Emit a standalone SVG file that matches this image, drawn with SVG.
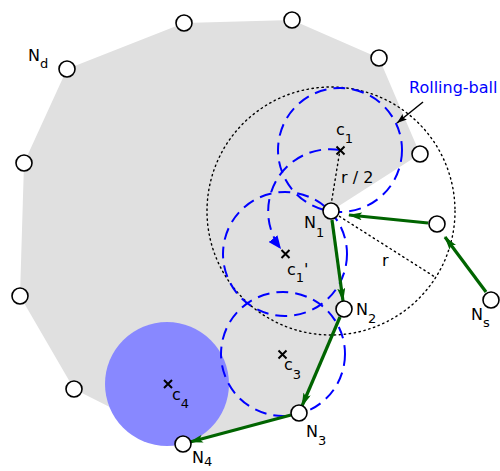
<svg xmlns="http://www.w3.org/2000/svg" width="500" height="471" viewBox="0 0 500 471">
<style>
.node{fill:#fff;stroke:#000;stroke-width:1.6}
.dot{fill:none;stroke:#000;stroke-width:1.4;stroke-dasharray:1.4,3.6;stroke-linecap:round}
.dash{fill:none;stroke:#0000ff;stroke-width:2;stroke-dasharray:12,7}
.grn{fill:none;stroke:#006400;stroke-width:3.2;marker-end:url(#ag)}
.x{stroke:#000;stroke-width:2}
text{font-family:"DejaVu Sans",sans-serif;font-size:16px;fill:#000}
.sub{font-size:13px}
</style>
<defs>
<marker id="ag" viewBox="0 0 14 8" refX="13" refY="4" markerWidth="14" markerHeight="8" markerUnits="userSpaceOnUse" orient="auto">
<path d="M0,0 L14,4 L0,8 L3,4 z" fill="#006400"/>
</marker>
<marker id="ab" viewBox="0 0 10 7" refX="10" refY="3.5" markerWidth="10" markerHeight="7" markerUnits="userSpaceOnUse" orient="auto">
<path d="M0,0 L10,3.5 L0,7 L2,3.5 z" fill="#000"/>
</marker>
<marker id="abl" viewBox="0 0 13 11" refX="13" refY="5.5" markerWidth="13" markerHeight="11" markerUnits="userSpaceOnUse" orient="auto">
<path d="M0,0 L13,5.5 L0,11 z" fill="#0000ff"/>
</marker>
</defs>
<polygon points="67,69 184,23 292,20 379,58 420,154 331,211 344,309 299,413 183,444 74,389 20,296 24,163" fill="#e0e0e0"/>
<circle cx="167" cy="384" r="62" fill="#8888ff"/>
<g id="guides">
<circle class="dot" cx="331" cy="211" r="124"/>
<line class="dot" x1="331" y1="205" x2="340" y2="150"/>
<line class="dot" x1="331" y1="211" x2="435" y2="277"/>
</g>
<g id="balls">
<circle class="dash" cx="340" cy="150" r="62"/>
<circle class="dash" cx="285" cy="254" r="62"/>
<circle class="dash" cx="283" cy="354" r="62"/>
<path class="dash" d="M340,150 A62,62 0 0 0 281,249" marker-end="url(#abl)"/>
</g>
<g id="connectors">
<line class="grn" x1="428" y1="223" x2="349" y2="215"/>
<line class="grn" x1="486" y1="292" x2="445" y2="237"/>
<line class="grn" x1="332" y1="220" x2="343" y2="301"/>
<line class="grn" x1="340" y1="317" x2="302" y2="406"/>
<line class="grn" x1="291" y1="415" x2="190" y2="442"/>
<line x1="423" y1="102" x2="397" y2="123" stroke="#000" stroke-width="1.5" marker-end="url(#ab)"/>
</g>
<g id="n-top1"><circle class="node" cx="184" cy="23" r="8"/></g>
<g id="n-top2"><circle class="node" cx="292" cy="20" r="8"/></g>
<g id="n-top3"><circle class="node" cx="379" cy="58" r="8"/></g>
<g id="n-right"><circle class="node" cx="420" cy="154" r="8"/></g>
<g id="N1"><circle class="node" cx="331" cy="211" r="8"/></g>
<g id="n-mid"><circle class="node" cx="437" cy="224" r="8"/></g>
<g id="Ns"><circle class="node" cx="491" cy="300" r="8"/></g>
<g id="N2"><circle class="node" cx="344" cy="309" r="8"/></g>
<g id="N3"><circle class="node" cx="299" cy="413" r="8"/></g>
<g id="N4"><circle class="node" cx="183" cy="444" r="8"/></g>
<g id="n-l1"><circle class="node" cx="74" cy="389" r="8"/></g>
<g id="n-l2"><circle class="node" cx="20" cy="296" r="8"/></g>
<g id="n-l3"><circle class="node" cx="24" cy="163" r="8"/></g>
<g id="Nd"><circle class="node" cx="67" cy="69" r="8"/></g>
<g id="centres">
<path class="x" d="M336.5,146.5 l8,8 m0,-8 l-8,8"/>
<path class="x" d="M281.5,250 l8,8 m0,-8 l-8,8"/>
<path class="x" d="M278.5,350.5 l8,8 m0,-8 l-8,8"/>
<path class="x" d="M164,380 l8,8 m0,-8 l-8,8"/>
</g>
<g id="labels">
<text x="409" y="93" fill="#0000ff" style="fill:#0000ff">Rolling-ball</text>
<text x="28" y="61">N<tspan class="sub" dy="7">d</tspan></text>
<text x="336" y="135">c<tspan class="sub" dy="8">1</tspan></text>
<text x="341" y="183">r / 2</text>
<text x="304" y="228">N<tspan class="sub" dy="9">1</tspan></text>
<text x="287" y="275">c<tspan class="sub" dy="7">1</tspan><tspan dy="-7">'</tspan></text>
<text x="382" y="266">r</text>
<text x="356" y="315">N<tspan class="sub" dy="8">2</tspan></text>
<text x="471" y="320">N<tspan class="sub" dy="7">s</tspan></text>
<text x="284" y="370">c<tspan class="sub" dy="9">3</tspan></text>
<text x="172" y="400">c<tspan class="sub" dy="8">4</tspan></text>
<text x="306" y="437">N<tspan class="sub" dy="8">3</tspan></text>
<text x="192" y="463">N<tspan class="sub" dy="3">4</tspan></text>
</g>
</svg>
